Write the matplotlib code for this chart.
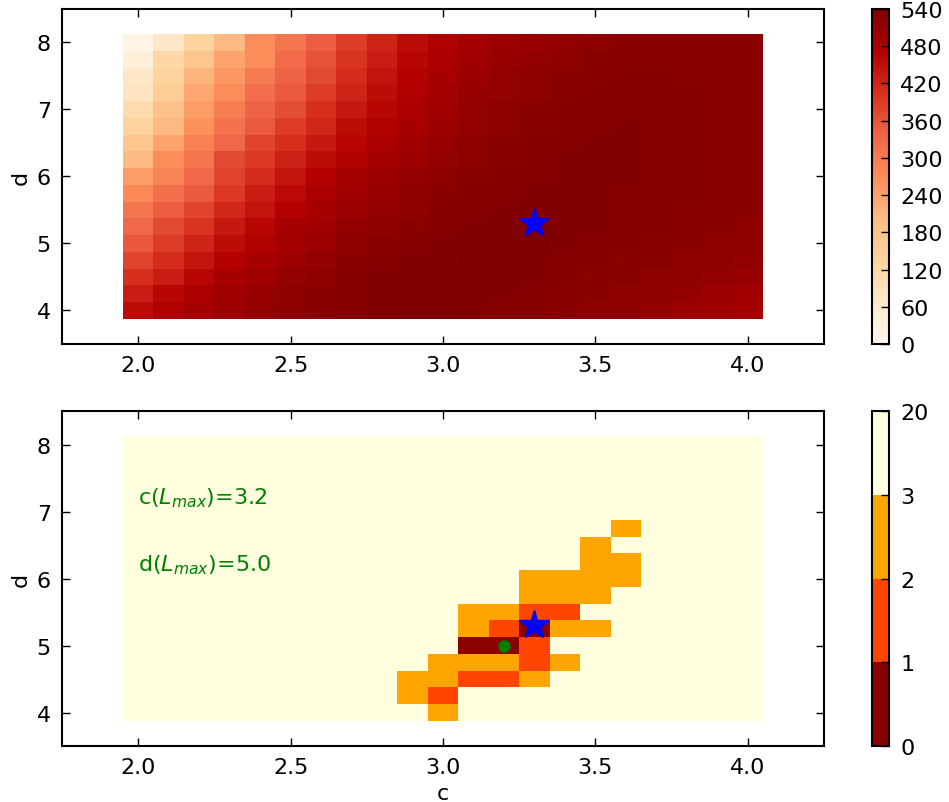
import numpy as np
import matplotlib
matplotlib.use("Agg")
import matplotlib.pyplot as plt
from matplotlib.colors import ListedColormap, BoundaryNorm

# grid of the parameter scan
c_vals = [2.0, 2.1, 2.2, 2.3, 2.4, 2.5, 2.6, 2.7, 2.8, 2.9, 3.0,
          3.1, 3.2, 3.3, 3.4, 3.5, 3.6, 3.7, 3.8, 3.9, 4.0]
d_vals = [4.0, 4.25, 4.5, 4.75, 5.0, 5.25, 5.5, 5.75, 6.0,
          6.25, 6.5, 6.75, 7.0, 7.25, 7.5, 7.75, 8.0]

# log-likelihood surface, rows listed from d=8.0 down to d=4.0
loglike_rows = [
    [11, 70, 135, 205, 270, 308, 346, 389, 421, 454, 475, 491, 502, 508, 513, 518, 524, 524, 524, 524, 524],
    [38, 124, 173, 238, 270, 329, 362, 400, 432, 464, 481, 497, 508, 513, 518, 524, 524, 524, 524, 524, 524],
    [70, 135, 211, 254, 302, 340, 373, 410, 443, 470, 486, 502, 513, 518, 524, 524, 529, 529, 524, 524, 524],
    [81, 151, 232, 270, 324, 351, 389, 421, 454, 475, 491, 508, 513, 518, 524, 529, 529, 529, 529, 524, 524],
    [113, 184, 248, 297, 340, 367, 405, 437, 464, 481, 497, 513, 518, 524, 529, 529, 529, 529, 529, 524, 524],
    [135, 205, 265, 313, 351, 389, 416, 454, 475, 486, 502, 513, 518, 524, 529, 529, 535, 529, 529, 524, 524],
    [173, 238, 292, 335, 378, 405, 437, 464, 481, 497, 508, 518, 524, 529, 529, 535, 535, 529, 529, 524, 524],
    [205, 270, 308, 373, 394, 427, 454, 475, 491, 502, 513, 518, 524, 529, 535, 535, 535, 529, 529, 524, 524],
    [248, 286, 335, 378, 410, 443, 470, 486, 502, 513, 518, 524, 529, 529, 535, 535, 535, 529, 529, 524, 524],
    [275, 319, 351, 394, 432, 459, 481, 497, 508, 518, 524, 529, 529, 535, 535, 535, 529, 529, 529, 524, 524],
    [308, 346, 378, 416, 443, 470, 486, 502, 513, 518, 529, 529, 535, 535, 537, 535, 529, 529, 524, 524, 524],
    [335, 373, 400, 437, 464, 486, 497, 513, 518, 524, 529, 535, 535, 538, 535, 535, 529, 529, 524, 524, 518],
    [356, 389, 421, 454, 475, 491, 502, 518, 524, 529, 535, 535, 540, 538, 535, 529, 529, 524, 524, 518, 518],
    [378, 410, 443, 470, 486, 502, 513, 524, 529, 535, 535, 538, 538, 535, 529, 529, 524, 524, 518, 518, 513],
    [405, 432, 464, 486, 497, 513, 518, 529, 535, 535, 538, 538, 535, 535, 529, 524, 524, 518, 518, 513, 508],
    [432, 464, 481, 497, 508, 518, 524, 529, 535, 538, 538, 535, 535, 529, 524, 524, 518, 518, 513, 502, 497],
    [454, 475, 486, 502, 513, 518, 524, 529, 535, 538, 538, 535, 529, 529, 524, 518, 518, 513, 502, 497, 491],
]

# confidence level of each cell, rows from d=8.0 down to d=4.0
# '0' -> 0-1, '1' -> 1-2, '2' -> 2-3, '.' -> outside (3-20)
level_rows = [
    ".....................",
    ".....................",
    ".....................",
    ".....................",
    ".....................",
    "................2....",
    "...............2.....",
    "...............22....",
    ".............2222....",
    ".............222.....",
    "...........2211......",
    "...........21022.....",
    "...........001.......",
    "..........22212......",
    ".........22112.......",
    ".........21..........",
    "..........2..........",
]
level_value = {"0": 0.5, "1": 1.5, "2": 2.5, ".": 20.0}
level_bounds = [0, 1, 2, 3, 20]
level_colors = ["darkred", "orangered", "orange", "lightyellow"]

c_best, d_best = 3.3, 5.3       # true parameters
c_max, d_max = 3.2, 5.0         # maximum-likelihood cell

loglike = np.array(loglike_rows[::-1], dtype=float)
levels = np.array([[level_value[ch] for ch in row] for row in level_rows[::-1]])

plt.rcParams.update({
    "font.size": 16,
    "axes.linewidth": 1.5,
    "xtick.direction": "in",
    "ytick.direction": "in",
    "xtick.top": True,
    "ytick.right": True,
    "xtick.major.size": 6,
    "ytick.major.size": 6,
    "xtick.major.width": 1,
    "ytick.major.width": 1,
    "xtick.major.pad": 8,
    "ytick.major.pad": 8,
})

fig = plt.figure(figsize=(9.49, 8.03), dpi=100)
ax1 = fig.add_axes([0.0653, 0.5704, 0.803, 0.4172])
ax2 = fig.add_axes([0.0653, 0.0697, 0.803, 0.4172])
cax1 = fig.add_axes([0.9189, 0.5704, 0.0179, 0.4172])
cax2 = fig.add_axes([0.9189, 0.0697, 0.0179, 0.4172])

# top: likelihood surface
m1 = ax1.pcolormesh(c_vals, d_vals, loglike, cmap="OrRd", vmin=0, vmax=540,
                    shading="nearest")
ax1.plot(c_best, d_best, "*", color="blue", markersize=22, markeredgecolor="blue")
cb1 = fig.colorbar(m1, cax=cax1, ticks=np.arange(0, 541, 60))
cb1.outline.set_linewidth(1.5)
cax1.tick_params(direction="in", length=6, labelsize=16, right=True)

# bottom: confidence regions
cmap2 = ListedColormap(level_colors)
norm2 = BoundaryNorm(level_bounds, cmap2.N)
m2 = ax2.pcolormesh(c_vals, d_vals, levels, cmap=cmap2, norm=norm2,
                    shading="nearest")
ax2.plot(c_best, d_best, "*", color="blue", markersize=22, markeredgecolor="blue")
ax2.plot(c_max, d_max, "o", color="green", markersize=8, markeredgecolor="green")
ax2.text(2.0, 7.12, r"c($L_{max}$)=%.1f" % c_max, color="green", fontsize=16)
ax2.text(2.0, 6.12, r"d($L_{max}$)=%.1f" % d_max, color="green", fontsize=16)
cb2 = fig.colorbar(m2, cax=cax2, ticks=level_bounds, spacing="uniform")
cb2.outline.set_linewidth(1.5)
cax2.tick_params(direction="in", length=6, labelsize=16, right=True)

for ax in (ax1, ax2):
    ax.set_xlim(1.75, 4.25)
    ax.set_ylim(3.5, 8.5)
    ax.set_xticks([2.0, 2.5, 3.0, 3.5, 4.0])
    ax.set_yticks([4, 5, 6, 7, 8])
    ax.set_ylabel("d", fontsize=16)
ax2.set_xlabel("c", fontsize=16)

fig.savefig("out.png", dpi=100)
